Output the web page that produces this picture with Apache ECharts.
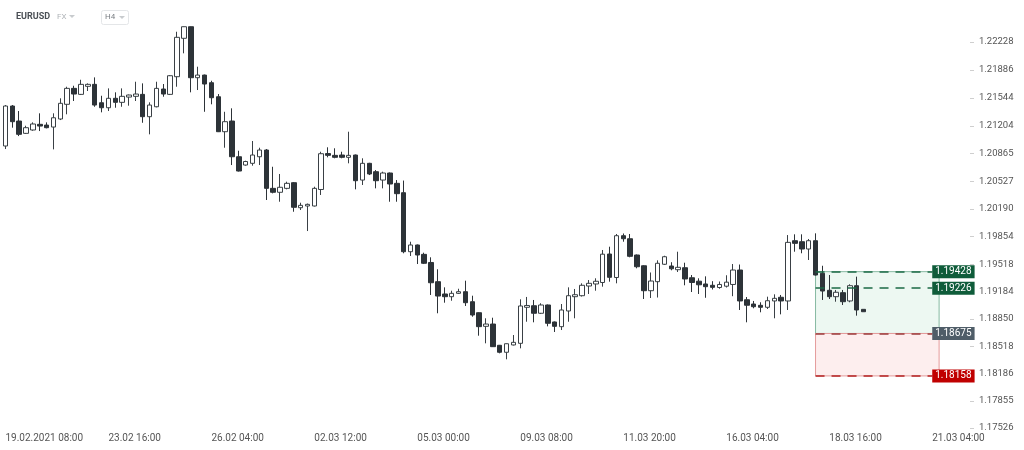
<!DOCTYPE html>
<html>
<head>
<meta charset="utf-8">
<title>EURUSD H4</title>
<script src="https://cdn.jsdelivr.net/npm/echarts/dist/echarts.min.js"></script>
<style>
    html,body{margin:0;padding:0;background:#fff;}
    #main{width:1024px;height:450px;}
</style>
</head>
<body>
<div id="main"></div>
<script>
/* bougies H4 : [open, close, low, high] */
var ohlc = [
    [1.20959,1.21446,1.20922,1.21458],[1.21446,1.21255,1.21182,1.21458],[1.21263,1.21101,1.21080,1.21385],
    [1.21113,1.21182,1.21105,1.21206],[1.21154,1.21227,1.21145,1.21247],[1.21223,1.21202,1.21141,1.21357],
    [1.21214,1.21182,1.21174,1.21247],[1.21190,1.21303,1.20918,1.21357],[1.21288,1.21479,1.21275,1.21540],
    [1.21467,1.21661,1.21345,1.21681],[1.21661,1.21592,1.21507,1.21693],[1.21588,1.21710,1.21580,1.21766],
    [1.21686,1.21710,1.21629,1.21722],[1.21710,1.21458,1.21437,1.21795],[1.21486,1.21425,1.21369,1.21571],
    [1.21425,1.21540,1.21385,1.21661],[1.21540,1.21491,1.21425,1.21613],[1.21491,1.21564,1.21437,1.21661],
    [1.21555,1.21580,1.21450,1.21586],[1.21564,1.21592,1.21507,1.21742],[1.21588,1.21316,1.21242,1.21722],
    [1.21316,1.21458,1.21101,1.21491],[1.21437,1.21661,1.21430,1.21742],[1.21653,1.21592,1.21559,1.21714],
    [1.21588,1.21815,1.21580,1.21823],[1.21803,1.22283,1.21681,1.22351],[1.22271,1.22412,1.22088,1.22414],
    [1.22412,1.21791,1.21613,1.22414],[1.21791,1.21823,1.21641,1.21925],[1.21823,1.21714,1.21376,1.21829],
    [1.21730,1.21547,1.21467,1.21754],[1.21559,1.21133,1.21129,1.21592],[1.21133,1.21255,1.20938,1.21376],
    [1.21263,1.20828,1.20727,1.21418],[1.20828,1.20654,1.20648,1.20901],[1.20727,1.20770,1.20719,1.20780],
    [1.20748,1.20849,1.20719,1.21020],[1.20828,1.20910,1.20727,1.20938],[1.20910,1.20443,1.20301,1.20922],
    [1.20443,1.20395,1.20382,1.20706],[1.20395,1.20456,1.20280,1.20618],[1.20443,1.20504,1.20431,1.20524],
    [1.20512,1.20212,1.20158,1.20520],[1.20207,1.20236,1.20179,1.20268],[1.20228,1.20248,1.19923,1.20258],
    [1.20228,1.20443,1.20222,1.20463],[1.20429,1.20865,1.20362,1.20889],[1.20867,1.20845,1.20821,1.20943],
    [1.20845,1.20821,1.20809,1.20931],[1.20849,1.20821,1.20809,1.20889],[1.20821,1.20845,1.20748,1.21133],
    [1.20849,1.20536,1.20431,1.20855],[1.20544,1.20748,1.20484,1.20809],[1.20748,1.20618,1.20605,1.20754],
    [1.20646,1.20536,1.20443,1.20666],[1.20544,1.20630,1.20443,1.20646],[1.20630,1.20496,1.20280,1.20636],
    [1.20504,1.20378,1.20280,1.20544],[1.20390,1.19671,1.19652,1.20538],[1.19671,1.19753,1.19619,1.19793],
    [1.19753,1.19631,1.19521,1.19759],[1.19639,1.19530,1.19521,1.19659],[1.19540,1.19293,1.19144,1.19603],
    [1.19306,1.19131,1.18921,1.19457],[1.19156,1.19123,1.19050,1.19237],[1.19123,1.19164,1.19074,1.19196],
    [1.19164,1.19184,1.19156,1.19220],[1.19184,1.19050,1.19010,1.19318],[1.19062,1.18900,1.18879,1.19135],
    [1.18928,1.18758,1.18648,1.18932],[1.18762,1.18790,1.18555,1.18860],[1.18790,1.18514,1.18510,1.18867],
    [1.18531,1.18446,1.18433,1.18535],[1.18446,1.18550,1.18360,1.18553],[1.18535,1.18567,1.18529,1.18656],
    [1.18555,1.19010,1.18494,1.19091],[1.18994,1.19016,1.18818,1.19120],[1.19013,1.18921,1.18811,1.19083],
    [1.18921,1.19022,1.18912,1.19043],[1.19022,1.18799,1.18762,1.19028],[1.18815,1.18762,1.18693,1.18821],
    [1.18758,1.18961,1.18717,1.19034],[1.18949,1.19135,1.18818,1.19237],[1.19123,1.19147,1.18860,1.19217],
    [1.19135,1.19262,1.19125,1.19286],[1.19253,1.19286,1.19156,1.19326],[1.19278,1.19311,1.19196,1.19347],
    [1.19296,1.19641,1.19245,1.19692],[1.19643,1.19359,1.19306,1.19732],[1.19357,1.19866,1.19286,1.19887],
    [1.19866,1.19829,1.19793,1.19893],[1.19829,1.19615,1.19603,1.19887],[1.19631,1.19488,1.19469,1.19637],
    [1.19500,1.19196,1.19095,1.19506],[1.19196,1.19314,1.19107,1.19418],[1.19306,1.19530,1.19113,1.19566],
    [1.19518,1.19610,1.19509,1.19622],[1.19497,1.19463,1.19445,1.19543],[1.19452,1.19481,1.19424,1.19671],
    [1.19476,1.19339,1.19262,1.19537],[1.19354,1.19296,1.19180,1.19387],[1.19312,1.19268,1.19156,1.19347],
    [1.19278,1.19245,1.19110,1.19371],[1.19262,1.19237,1.19211,1.19312],[1.19235,1.19272,1.19220,1.19308],
    [1.19251,1.19300,1.19235,1.19384],[1.19272,1.19448,1.19129,1.19521],[1.19448,1.19071,1.18961,1.19515],
    [1.19086,1.19019,1.18811,1.19119],[1.19034,1.19001,1.18982,1.19071],[1.19018,1.18994,1.18933,1.19055],
    [1.18994,1.19074,1.18973,1.19123],[1.19071,1.19103,1.18860,1.19152],[1.19116,1.19071,1.18908,1.19144],
    [1.19071,1.19785,1.18961,1.19874],[1.19805,1.19773,1.19671,1.19883],[1.19793,1.19704,1.19652,1.19883],
    [1.19704,1.19805,1.19570,1.19826],[1.19805,1.19387,1.19381,1.19895],[1.19408,1.19192,1.19083,1.19500],
    [1.19201,1.19123,1.19095,1.19387],[1.19123,1.19177,1.19062,1.19205],[1.19172,1.19062,1.19022,1.19205],
    [1.19071,1.19257,1.19055,1.19274],[1.19257,1.18961,1.18892,1.19367],[1.18969,1.18940,1.18940,1.18969]
];

/* une etiquette toutes les 15 bougies */
var timeLabels = ['19.02.2021 08:00','23.02 16:00','26.02 04:00','02.03 12:00','05.03 00:00',
    '09.03 08:00','11.03 20:00','16.03 04:00','18.03 16:00','21.03 04:00'];
var labelStep = 15;
var slotCount = 141;

var priceTicks = [1.22228,1.21886,1.21544,1.21204,1.20865,1.20527,1.20190,1.19854,
    1.19518,1.19184,1.18850,1.18518,1.18186,1.17855,1.17526];

/* position : take profit, entree, stop, niveau */
var tpLevel = 1.19428;
var entryLevel = 1.19226;
var midLevel = 1.18675;
var slLevel = 1.18158;
var posFrom = 118, posTo = 136, lineTo = 135;

var slots = [];
for (var i = 0; i < slotCount; i++) {
    slots.push(String(i));
}

function levelLine(v, color, bg, type){
    return [
        {
            coord: [posFrom, v],
            value: v,
            lineStyle: {color: color, type: type, width: 1.5},
            label: {
                show: true,
                position: 'end',
                distance: 0,
                formatter: function(p){ return p.value.toFixed(5); },
                backgroundColor: bg,
                color: '#fff',
                fontSize: 10,
                fontFamily: 'Roboto',
                padding: [2, 3, 1, 3]
            }
        },
        {coord: [lineTo, v]}
    ];
}

var option = {
    animation: false,
    backgroundColor: '#fff',
    grid: {
        left: 2,
        right: 54,
        top: 20,
        bottom: 20
    },
    xAxis: {
        type: 'category',
        data: slots,
        boundaryGap: true,
        axisLine: {show: false},
        axisTick: {show: false},
        splitLine: {show: false},
        axisLabel: {
            interval: labelStep - 1,
            align: 'left',
            margin: 3,
            color: '#555',
            fontSize: 10,
            fontFamily: 'Roboto',
            formatter: function(v, idx){
                return timeLabels[idx / labelStep] || '';
            }
        }
    },
    yAxis: {
        type: 'value',
        position: 'right',
        min: 1.17499,
        max: 1.22494,
        scale: true,
        axisLine: {show: false},
        axisTick: {
            show: true,
            length: 4,
            customValues: priceTicks,
            lineStyle: {color: '#cfcfcf'}
        },
        splitLine: {show: false},
        axisLabel: {
            customValues: priceTicks,
            margin: 9,
            color: '#555',
            fontSize: 9.5,
            fontFamily: 'Roboto',
            formatter: function(v){ return v.toFixed(5); }
        }
    },
    series: [
        {
            name: 'EURUSD',
            type: 'candlestick',
            barWidth: 5,
            data: ohlc,
            itemStyle: {
                color: '#ffffff',
                color0: '#2d3338',
                borderColor: '#3a4045',
                borderColor0: '#2d3338',
                borderWidth: 1
            },
            markArea: {
                silent: true,
                data: [
                    [
                        {coord: [posFrom, tpLevel], itemStyle: {color: '#edf8f2', borderColor: '#86b9a2', borderWidth: 1}},
                        {coord: [posTo, midLevel]}
                    ],
                    [
                        {coord: [posFrom, midLevel], itemStyle: {color: '#fdeeee', borderColor: '#e59b9b', borderWidth: 1}},
                        {coord: [posTo, slLevel]}
                    ]
                ]
            },
            markLine: {
                silent: true,
                symbol: ['none', 'none'],
                data: [
                    levelLine(tpLevel, '#1b6a45', '#0f5c3a', [9, 7]),
                    levelLine(entryLevel, '#1b6a45', '#0f5c3a', [9, 7]),
                    levelLine(midLevel, '#9a3b3b', '#4f5d68', [9, 7]),
                    levelLine(slLevel, '#b22222', '#c00000', [9, 7])
                ]
            }
        }
    ],
    graphic: [
        {type: 'text', left: 16, top: 12, style: {text: 'EURUSD', fill: '#4a4f55', font: 'bold 9px Roboto'}},
        {type: 'text', left: 57, top: 13, style: {text: 'FX', fill: '#b0b4b8', font: '8px Roboto'}},
        {type: 'polygon', shape: {points: [[69, 15], [75, 15], [72, 18]]}, style: {fill: '#c8cbce'}},
        {type: 'rect', shape: {x: 101.5, y: 10.5, width: 27, height: 14, r: 2}, style: {fill: '#fff', stroke: '#e4e6e8', lineWidth: 1}},
        {type: 'text', left: 105, top: 13, style: {text: 'H4', fill: '#7a7f84', font: '8px Roboto'}},
        {type: 'polygon', shape: {points: [[119, 16], [125, 16], [122, 19]]}, style: {fill: '#c8cbce'}}
    ]
};

var myChart = echarts.init(document.getElementById('main'));
myChart.setOption(option);
</script>
</body>
</html>
